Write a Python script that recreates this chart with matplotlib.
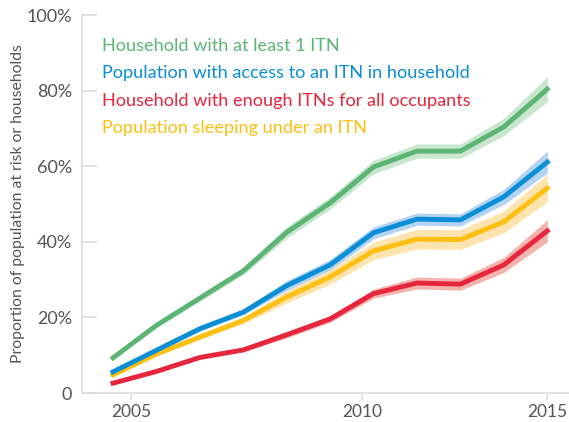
import numpy as np
import matplotlib
matplotlib.use("Agg")
import matplotlib.pyplot as plt

plt.rcParams['font.family'] = ['Lato', 'DejaVu Sans']

# survey points (evenly spaced on the chart), values in %
punkter = np.arange(11)
tick_pos = [0.415, 5.74, 10]
tick_labels = ["2005", "2010", "2015"]

serier = ["Household with at least 1 ITN",
          "Population with access to an ITN in household",
          "Household with enough ITNs for all occupants",
          "Population sleeping under an ITN"]
farger = ["#5cb575", "#0a8fd6", "#e6263d", "#fcbf12"]
bandfarger = ["#c9e6cf", "#b3d3f0", "#f3b4ae", "#fde3ad"]

green = [9.3, 17.9, 25.1, 32.3, 42.5, 50.3, 59.8, 64.0, 64.0, 70.4, 80.4]
blue = [5.6, 11.3, 17.0, 21.4, 28.4, 33.9, 42.4, 46.0, 45.8, 51.9, 61.1]
red = [2.6, 5.7, 9.4, 11.4, 15.4, 19.6, 26.3, 29.1, 28.8, 33.9, 42.9]
yellow = [4.8, 10.3, 14.8, 19.2, 25.4, 30.7, 37.6, 40.7, 40.6, 45.3, 54.2]

# half width of uncertainty band
green_err = [0.4, 0.6, 0.8, 1.0, 1.5, 1.6, 1.8, 1.9, 1.9, 2.3, 3.3]
blue_err = [0.3, 0.5, 0.6, 0.7, 1.3, 1.4, 1.6, 1.6, 1.6, 2.0, 2.9]
red_err = [0.2, 0.3, 0.4, 0.5, 0.8, 0.9, 1.2, 1.6, 1.6, 2.0, 2.9]
yellow_err = [0.3, 0.5, 0.6, 0.8, 1.6, 1.9, 2.3, 2.6, 2.6, 2.9, 3.6]

verdier = [green, blue, red, yellow]
feil = [green_err, blue_err, red_err, yellow_err]

fig = plt.figure(figsize=(5.69, 4.22), dpi=100)
ax = fig.add_axes([0.1441, 0.0687, 0.8559, 0.8957])

# tegn baand og linjer, gul/roed under blaa/groenn
rekkefolge = [2, 3, 1, 0]
for i in rekkefolge:
    y = np.array(verdier[i])
    e = np.array(feil[i])
    ax.fill_between(punkter, y - e, y + e, color=bandfarger[i], lw=0, zorder=1 + i * 0.01)
for i in rekkefolge:
    ax.plot(punkter, verdier[i], color=farger[i], lw=3.5, solid_joinstyle='miter', zorder=3)

# legende som tekst
for i, navn in enumerate(serier):
    ax.text(0.042, 0.918 - i * 0.0722, navn, transform=ax.transAxes, color=farger[i],
            fontsize=13.1, va='center', ha='left')

ax.set_xlim(-0.714, 10.5)
ax.set_ylim(0, 100)
ax.set_xticks(tick_pos)
ax.set_xticklabels(tick_labels)
ax.set_yticks([0, 20, 40, 60, 80, 100])
ax.set_yticklabels(["0", "20%", "40%", "60%", "80%", "100%"])

grå = "#dddddd"
for s in ["top", "right"]:
    ax.spines[s].set_visible(False)
for s in ["left", "bottom"]:
    ax.spines[s].set_color(grå)
    ax.spines[s].set_linewidth(1.2)

ax.tick_params(axis='y', direction='in', length=11, width=1.2, color=grå,
               labelsize=13, labelcolor="#555555", pad=7)
ax.tick_params(axis='x', direction='out', length=5, width=1.2, color=grå,
               labelsize=12.5, labelcolor="#555555", pad=3)

ax.set_ylabel("Proportion of population at risk or households", fontsize=11.3,
              color="#555555")
ax.yaxis.set_label_coords(-0.117, 0.5)

fig.savefig("out.png", dpi=100)
